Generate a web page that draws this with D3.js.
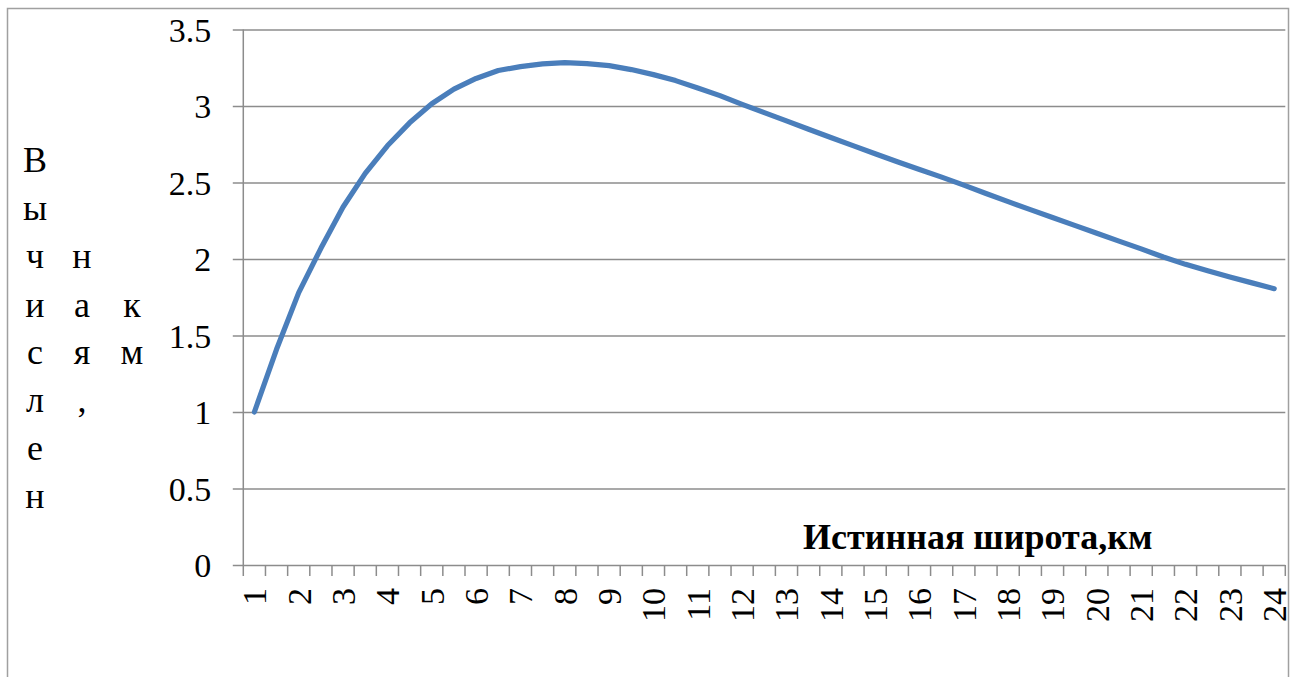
<!DOCTYPE html>
<html>
<head>
<meta charset="utf-8">
<script src="https://cdn.jsdelivr.net/npm/d3@7"></script>
<style>
  html, body { margin: 0; padding: 0; background: #fff; }
  svg { display: block; }
  text { font-family: "Liberation Serif", "Times New Roman", serif; fill: #000; }
</style>
</head>
<body>
<svg id="chart" width="1298" height="677"></svg>
<script>
// True width (km) categories, half-kilometre steps
const categories = [1, 1.5, 2, 2.5, 3, 3.5, 4, 4.5, 5, 5.5, 6, 6.5, 7, 7.5, 8, 8.5,
  9, 9.5, 10, 10.5, 11, 11.5, 12, 12.5, 13, 13.5, 14, 14.5, 15, 15.5, 16, 16.5,
  17, 17.5, 18, 18.5, 19, 19.5, 20, 20.5, 21, 21.5, 22, 22.5, 23, 23.5, 24];

// Computed width (km) for each category
const computedWidth = [1.00, 1.41, 1.78, 2.07, 2.34, 2.56, 2.74, 2.89, 3.015, 3.11,
  3.18, 3.232, 3.257, 3.275, 3.284, 3.277, 3.264, 3.238, 3.205, 3.166, 3.118, 3.068,
  3.011, 2.957, 2.903, 2.848, 2.794, 2.741, 2.688, 2.636, 2.585, 2.535, 2.483, 2.428,
  2.375, 2.323, 2.271, 2.220, 2.168, 2.117, 2.066, 2.013, 1.965, 1.923, 1.883, 1.844, 1.806];

const yTicks = [0, 0.5, 1, 1.5, 2, 2.5, 3, 3.5];
const xTickLabels = ["1","2","3","4","5","6","7","8","9","10","11","12","13","14","15","16",
  "17","18","19","20","21","22","23","24"];

const xTitle = "Истинная широта,км";
// Vertical axis title, laid out in narrow columns, one letter per row
const yTitleColumns = [
  { letters: ["В","ы","ч","и","с","л","е","н"], startRow: 0 },
  { letters: ["н","а","я",","], startRow: 2 },
  { letters: ["к","м"], startRow: 3 }
];

const svg = d3.select("#chart");
const serif = "'Liberation Serif', 'Times New Roman', serif";
const plot = { left: 243.3, right: 1285.3, top: 29.5, bottom: 565 };
const gridColor = "#8c8c8c";

// Outer chart frame
svg.append("rect")
  .attr("x", 7.5).attr("y", 8.5)
  .attr("width", 1281).attr("height", 720)
  .attr("fill", "none").attr("stroke", "#a0a0a0").attr("stroke-width", 1.5);

const x = d3.scaleBand().domain(categories).range([plot.left, plot.right]).padding(0);
const y = d3.scaleLinear().domain([0, 3.5]).range([plot.bottom, plot.top]);

// Horizontal gridlines with outside tick marks
const yAxis = d3.axisLeft(y).tickValues(yTicks)
  .tickSize(-(plot.right - plot.left)).tickSizeOuter(0)
  .tickFormat(d3.format(""));
const gy = svg.append("g").attr("transform", `translate(${plot.left},0)`)
  .call(yAxis).attr("font-family", serif);
gy.select(".domain").remove();
gy.selectAll(".tick line").attr("stroke", gridColor).attr("stroke-width", 1.5)
  .attr("x1", -10.5);
gy.selectAll(".tick text").attr("font-size", 34).attr("x", -32).attr("dy", "0.35em")
  .attr("fill", "#000");

// Vertical axis line
svg.append("line")
  .attr("x1", plot.left).attr("x2", plot.left)
  .attr("y1", y(3.5)).attr("y2", plot.bottom)
  .attr("stroke", gridColor).attr("stroke-width", 1.5);

// Category axis: tick marks on band boundaries
const boundaries = categories.map(c => x(c)).concat([x(categories[categories.length - 1]) + x.bandwidth()]);
svg.append("g").selectAll("line").data(boundaries).join("line")
  .attr("x1", d => d).attr("x2", d => d)
  .attr("y1", plot.bottom).attr("y2", plot.bottom + 11)
  .attr("stroke", gridColor).attr("stroke-width", 1.5);

// Category labels: every second category, rotated
const labelled = categories.filter(c => Number.isInteger(c));
svg.append("g").attr("font-family", serif).selectAll("text").data(labelled).join("text")
  .attr("transform", (c) => `translate(${x(c) + x.bandwidth() / 2},588) rotate(-90)`)
  .attr("text-anchor", "end")
  .attr("dy", "0.35em")
  .attr("font-size", 34)
  .text((c, i) => xTickLabels[i]);

// Series line
const line = d3.line()
  .x((d, i) => x(categories[i]) + x.bandwidth() / 2)
  .y(d => y(d));
svg.append("path")
  .datum(computedWidth)
  .attr("d", line)
  .attr("fill", "none")
  .attr("stroke", "#4a7ebb")
  .attr("stroke-width", 5.2)
  .attr("stroke-linejoin", "round")
  .attr("stroke-linecap", "round");

// Horizontal axis title
svg.append("text")
  .attr("x", 803).attr("y", 549)
  .attr("font-size", 36).attr("font-weight", "bold")
  .attr("font-family", serif)
  .text(xTitle);

// Vertical axis title
const colX = [35, 82, 132];
const rowY = [172, 220, 268, 317, 364, 412, 460, 508];
yTitleColumns.forEach((col, ci) => {
  svg.append("g").attr("font-family", serif).selectAll("text").data(col.letters).join("text")
    .attr("x", colX[ci])
    .attr("y", (d, i) => rowY[col.startRow + i])
    .attr("text-anchor", "middle")
    .attr("font-size", 36)
    .text(d => d);
});
</script>
</body>
</html>
